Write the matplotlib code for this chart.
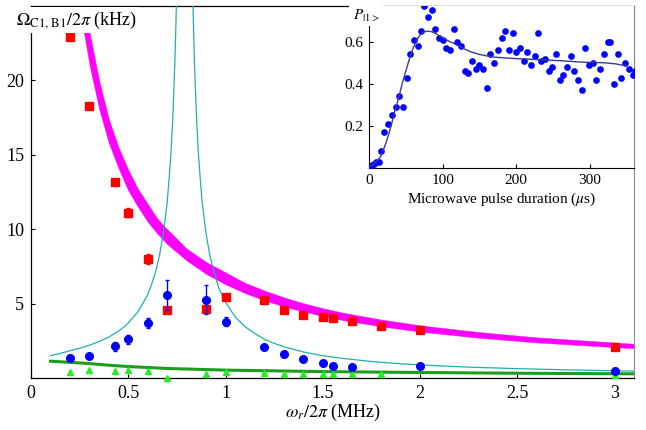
import matplotlib
matplotlib.use("Agg")
import matplotlib.pyplot as plt

plt.rcParams['font.family'] = ['Liberation Serif', 'DejaVu Serif']
plt.rcParams['mathtext.fontset'] = 'stix'

# ---- main panel data ----
red_x = [0.2, 0.3, 0.43, 0.5, 0.6, 0.7, 0.9, 1.0, 1.2, 1.3, 1.4, 1.5, 1.55, 1.65, 1.8, 2.0, 3.0]
red_y = [22.9, 18.3, 13.2, 11.1, 8.0, 4.55, 4.66, 5.47, 5.22, 4.55, 4.26, 4.08, 4.04, 3.81, 3.48, 3.2, 2.07]
red_err = [0.1, 0.15, 0.1, 0.3, 0.35, 0.1, 0.1, 0.1, 0.1, 0.1, 0.1, 0.1, 0.1, 0.1, 0.1, 0.1, 0.1]

blue_x = [0.2, 0.3, 0.43, 0.5, 0.6, 0.7, 0.9, 1.0, 1.2, 1.3, 1.4, 1.5, 1.55, 1.65, 2.0, 3.0]
blue_y = [1.36, 1.46, 2.13, 2.6, 3.7, 5.6, 5.27, 3.77, 2.09, 1.64, 1.31, 0.99, 0.79, 0.77, 0.82, 0.44]
blue_err = [0.2, 0.1, 0.3, 0.3, 0.35, 1.0, 0.97, 0.3, 0.1, 0.2, 0.1, 0.1, 0.1, 0.05, 0.05, 0.05]

green_x = [0.2, 0.3, 0.43, 0.5, 0.6, 0.7, 0.9, 1.0, 1.2, 1.3, 1.4, 1.5, 1.55, 1.65, 1.8, 3.0]
green_y = [0.39, 0.52, 0.5, 0.55, 0.5, 0.02, 0.3, 0.39, 0.35, 0.28, 0.3, 0.3, 0.3, 0.3, 0.3, 0.2]

# theory band (magenta)
mag_x = [0.25, 0.27, 0.3, 0.35, 0.4, 0.45, 0.5, 0.55, 0.6, 0.65, 0.7, 0.8, 0.9, 1.0, 1.1, 1.2, 1.3,
         1.4, 1.5, 1.6, 1.8, 2.0, 2.3, 2.6, 3.1]
mag_lo = [25.3, 23.4, 21.1, 18.1, 15.8, 14.1, 12.6, 11.5, 10.5, 9.7, 9.0, 7.9, 7.0, 6.30, 5.71, 5.22,
          4.81, 4.47, 4.17, 3.90, 3.47, 3.12, 2.71, 2.39, 2.00]
mag_hi = [27.9, 25.8, 23.3, 20.0, 17.4, 15.5, 14.0, 12.7, 11.7, 10.7, 10.0, 8.7, 7.8, 7.10, 6.39, 5.88,
          5.42, 5.03, 4.69, 4.40, 3.93, 3.54, 3.09, 2.73, 2.30]

# theory curve (cyan), left and right branches
cyan_lx = [0.1, 0.15, 0.2, 0.25, 0.3, 0.35, 0.4, 0.45, 0.48, 0.5, 0.52, 0.55, 0.57, 0.6, 0.62, 0.64,
           0.66, 0.68, 0.69, 0.7, 0.71, 0.72, 0.73, 0.74, 0.745, 0.75, 0.755]
cyan_ly = [1.50, 1.65, 1.83, 2.0, 2.2, 2.45, 2.75, 3.15, 3.45, 3.7, 4.0, 4.45, 4.9, 5.6, 6.3, 7.1,
           8.2, 9.7, 10.7, 11.8, 13.4, 15.2, 17.8, 21.4, 23.8, 26.5, 30.0]
cyan_rx = [0.825, 0.83, 0.835, 0.84, 0.85, 0.86, 0.87, 0.88, 0.9, 0.92, 0.95, 0.97, 1.0, 1.05, 1.1,
           1.15, 1.2, 1.25, 1.3, 1.4, 1.5, 1.6, 1.75, 1.85, 2.0, 2.25, 2.5, 2.75, 3.1]
cyan_ry = [30.0, 26.5, 23.8, 21.4, 17.8, 15.2, 13.4, 11.8, 9.7, 8.2, 6.7, 5.9, 5.1, 4.1, 3.45,
           3.0, 2.6, 2.33, 2.1, 1.75, 1.5, 1.32, 1.11, 1.0, 0.88, 0.73, 0.63, 0.55, 0.46]

# theory curve (green)
gline_x = [0.1, 0.2, 0.3, 0.4, 0.5, 0.7, 1.0, 1.5, 2.0, 2.5, 3.1]
gline_y = [1.13, 1.05, 0.97, 0.86, 0.77, 0.64, 0.53, 0.43, 0.37, 0.32, 0.28]

x_ticks = [0, 0.5, 1, 1.5, 2, 2.5, 3]
x_ticklabels = ['0', '0.5', '1', '1.5', '2', '2.5', '3']
y_ticks = [5, 10, 15, 20]

# ---- inset data ----
ins_t = [1, 4, 7, 10, 13, 16, 21, 26, 31, 36, 41, 46, 51, 56, 61, 66, 71, 75, 80, 85, 90, 95, 100,
         105, 110, 115, 120, 125, 130, 135, 140, 145, 150, 155, 160, 165, 170, 175, 180, 185, 190,
         195, 200, 205, 210, 215, 220, 225, 229, 234, 239, 244, 249, 254, 259, 264, 269, 274, 279,
         284, 289, 294, 299, 304, 309, 314, 319, 324, 328, 333, 338, 343, 348, 353, 358, 361]
ins_p = [0.01, 0.015, 0.02, 0.03, 0.03, 0.08, 0.17, 0.21, 0.25, 0.29, 0.34, 0.29, 0.43, 0.54, 0.61,
         0.58, 0.65, 0.77, 0.72, 0.75, 0.66, 0.62, 0.61, 0.57, 0.56, 0.66, 0.60, 0.58, 0.46, 0.45,
         0.51, 0.47, 0.49, 0.47, 0.38, 0.54, 0.50, 0.56, 0.62, 0.65, 0.56, 0.64, 0.55, 0.57, 0.51,
         0.55, 0.49, 0.53, 0.64, 0.51, 0.52, 0.46, 0.48, 0.54, 0.42, 0.44, 0.48, 0.53, 0.46, 0.42,
         0.37, 0.57, 0.49, 0.50, 0.42, 0.47, 0.54, 0.60, 0.60, 0.40, 0.54, 0.43, 0.50, 0.47, 0.44,
         0.46]
fit_t = [0, 5, 10, 15, 20, 25, 30, 35, 40, 45, 50, 55, 60, 65, 70, 75, 80, 85, 90, 100, 110, 120,
         130, 140, 150, 160, 170, 185, 200, 230, 260, 290, 320, 335, 350]
fit_p = [0.005, 0.015, 0.03, 0.05, 0.09, 0.14, 0.2, 0.27, 0.33, 0.40, 0.46, 0.52, 0.57, 0.61, 0.635,
         0.648, 0.65, 0.648, 0.64, 0.62, 0.60, 0.585, 0.565, 0.55, 0.54, 0.533, 0.527, 0.523, 0.52,
         0.515, 0.51, 0.503, 0.50, 0.495, 0.485]
ins_xticks = [0, 100, 200, 300]
ins_yticks = [0.2, 0.4, 0.6]

fig = plt.figure(figsize=(6.46, 4.30), dpi=100)
ax = fig.add_axes([31/646, 1-378/430, (634-31)/646, (378-6)/430])

ax.fill_between(mag_x, mag_lo, mag_hi, color='#ff00ff', linewidth=0.3, edgecolor='#ff00ff', zorder=2)
ax.plot(cyan_lx, cyan_ly, color='#1fb0b0', lw=0.9, zorder=3)
ax.plot(cyan_rx, cyan_ry, color='#1fb0b0', lw=0.9, zorder=3)
ax.plot(gline_x, gline_y, color='#1c9e1c', lw=2.2, zorder=3)

ax.errorbar(red_x, red_y, yerr=red_err, fmt='s', color='#ff0000', ms=5.5, elinewidth=0.8,
            capsize=1.5, zorder=5)
ax.errorbar(blue_x, blue_y, yerr=blue_err, fmt='o', color='#0000ff', ms=5.5, elinewidth=1.0,
            capsize=1.5, zorder=6)
ax.plot(green_x, green_y, '^', color='#22ee22', ms=5, zorder=4, clip_on=False)

ax.set_xlim(0, 3.1)
ax.set_ylim(0, 25)
ax.set_xticks(x_ticks)
ax.set_xticklabels(x_ticklabels)
ax.set_yticks(y_ticks)
ax.tick_params(direction='in', length=3, width=0.8, labelsize=13, pad=5)
ax.spines['right'].set_color('#888888')
for s in ['left', 'bottom', 'top']:
    ax.spines[s].set_linewidth(0.9)
ax.set_xlabel(r'$\omega_r/2\pi$ (MHz)', fontsize=13, labelpad=0)

fig.text(16/646, 1-20/430, r'$\Omega_{\mathrm{C1,\,B1}}/2\pi$ (kHz)', fontsize=13, ha='left',
         va='center', bbox=dict(facecolor='white', edgecolor='none', pad=1.5), zorder=10)

# ---- inset ----
ia = fig.add_axes([369/646, 1-168/430, (634-369)/646, (168-6)/430])
ia.set_facecolor('white')
ia.plot(ins_t, ins_p, 'o', color='#0000ff', ms=3.8, zorder=3)
ia.plot(fit_t, fit_p, color='#3a3a98', lw=1.0, zorder=4)
ia.set_xlim(0, 360)
ia.set_ylim(0, 0.77)
ia.set_xticks(ins_xticks)
ia.set_yticks(ins_yticks)
ia.tick_params(direction='in', length=3, width=0.8, labelsize=11, pad=4)
ia.spines['top'].set_visible(False)
ia.spines['right'].set_color('#888888')
ia.set_xlabel(r'Microwave pulse duration ($\mu$s)', fontsize=11, labelpad=3)

fig.text(353/646, 1-15/430, r'$P_{|1>}$', fontsize=11, ha='left', va='center',
         bbox=dict(facecolor='white', edgecolor='none', pad=2.5), zorder=10)

fig.savefig('out.png', dpi=100)
